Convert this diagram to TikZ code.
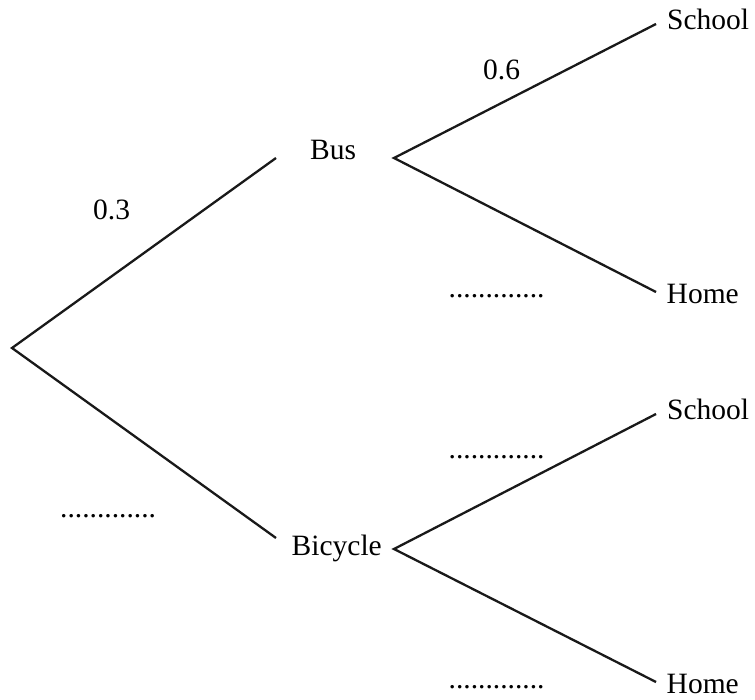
\documentclass[tikz,border=0pt]{standalone}
\usepackage{fontspec}
\setmainfont{Liberation Serif}
\begin{document}
\begin{tikzpicture}[x=1pt,y=-1pt,
  lbl/.style={anchor=base west,inner sep=0pt,font=\fontsize{29.5}{35}\selectfont},
  branch/.style={line width=2.3pt,line join=miter,black!90}]
\useasboundingbox (0,0) rectangle (755,700);
% branch points
\coordinate (root) at (12,348);
\coordinate (busL) at (276,158);
\coordinate (bicL) at (276,538);
\coordinate (busR) at (394,158);
\coordinate (bicR) at (394,549);
\coordinate (s1) at (656,24);
\coordinate (h1) at (656,292);
\coordinate (s2) at (656,414);
\coordinate (h2) at (656,682);
% texts
\node[lbl] (bus) at (310,159.5) {Bus};
\node[lbl] (bic) at (291.5,555) {Bicycle};
\node[lbl] (school1) at (667,30) {School};
\node[lbl] (home1) at (666.5,303.5) {Home};
\node[lbl] (school2) at (667,420) {School};
\node[lbl] (home2) at (666.5,693.5) {Home};
\node[lbl] (p03) at (93,220) {0.3};
\node[lbl] (p06) at (483,79.5) {0.6};
\node[lbl] (d1) at (448.5,297.5) {.............};
\node[lbl] (d2) at (448.5,458) {.............};
\node[lbl] (d3) at (60,517.5) {.............};
\node[lbl] (d4) at (448.5,688) {.............};
% connectors
\draw[branch] (busL) -- (root) -- (bicL);
\draw[branch] (s1) -- (busR) -- (h1);
\draw[branch] (s2) -- (bicR) -- (h2);
\end{tikzpicture}
\end{document}
